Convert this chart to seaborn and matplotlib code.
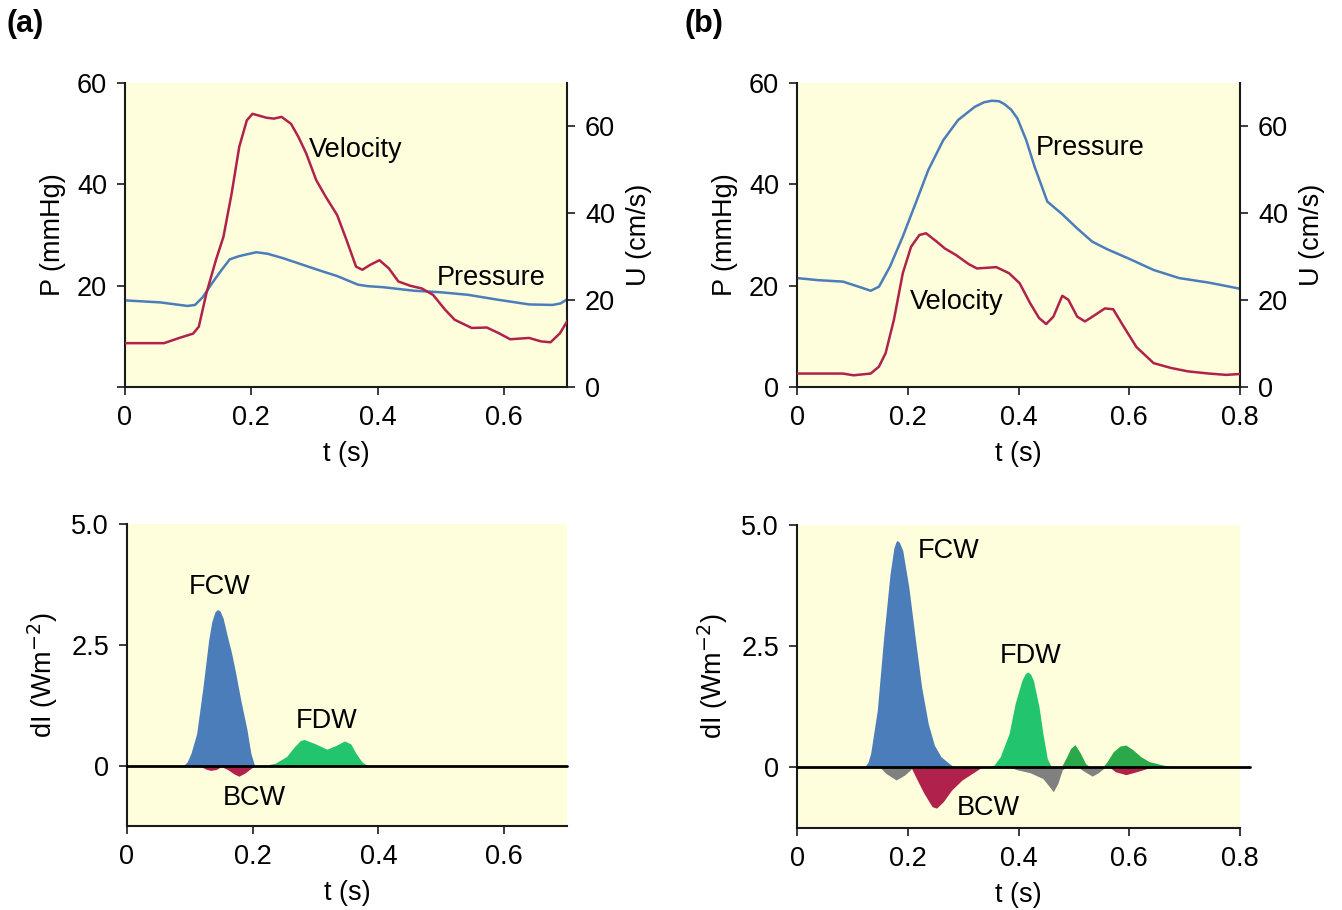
import numpy as np
import pandas as pd
import matplotlib
matplotlib.use("Agg")
import matplotlib.pyplot as plt
import seaborn as sns

# ---------------- DATA ----------------
# Panel (a) top: pressure (mmHg) and velocity (cm/s)
a_tp = [0.000, 0.056, 0.099, 0.111, 0.123, 0.138, 0.153, 0.166, 0.180, 0.190, 0.208, 0.226, 0.251,
        0.275, 0.306, 0.336, 0.369, 0.385, 0.409, 0.458, 0.500, 0.543, 0.592, 0.640, 0.677, 0.690, 0.700]
a_p = [17.1, 16.7, 16.0, 16.2, 17.7, 20.5, 23.1, 25.2, 25.8, 26.1, 26.6, 26.3, 25.4,
       24.4, 23.1, 21.9, 20.2, 19.9, 19.7, 19.0, 18.7, 18.2, 17.2, 16.3, 16.2, 16.5, 17.3]
a_tu = [0.000, 0.062, 0.086, 0.108, 0.117, 0.129, 0.144, 0.156, 0.169, 0.181, 0.193, 0.202,
        0.212, 0.224, 0.236, 0.248, 0.263, 0.275, 0.287, 0.303, 0.318, 0.336, 0.351, 0.366,
        0.376, 0.388, 0.403, 0.418, 0.433, 0.452, 0.470, 0.488, 0.507, 0.522, 0.549, 0.573,
        0.592, 0.610, 0.640, 0.659, 0.674, 0.689, 0.700]
a_u = [10.1, 10.1, 11.3, 12.3, 13.9, 21.6, 29.2, 34.6, 44.6, 55.3, 61.4, 62.9,
       62.5, 62.0, 61.8, 62.2, 60.6, 57.5, 53.8, 47.6, 43.8, 39.6, 33.8, 27.7,
       27.0, 28.1, 29.2, 27.3, 24.3, 23.3, 22.7, 21.2, 17.8, 15.5, 13.6, 13.7,
       12.4, 11.0, 11.3, 10.5, 10.3, 12.4, 15.1]

# Panel (b) top
b_tp = [0.000, 0.037, 0.083, 0.114, 0.133, 0.148, 0.168, 0.191, 0.214, 0.237, 0.264, 0.291,
        0.321, 0.338, 0.352, 0.365, 0.375, 0.387, 0.398, 0.414, 0.429, 0.452, 0.479, 0.506,
        0.533, 0.560, 0.598, 0.644, 0.690, 0.744, 0.800]
b_p = [21.5, 21.1, 20.8, 19.7, 19.0, 19.8, 23.8, 29.7, 36.2, 42.8, 48.7, 52.7,
       55.3, 56.2, 56.5, 56.4, 55.8, 54.7, 53.0, 48.7, 43.5, 36.6, 34.1, 31.3,
       28.7, 27.2, 25.4, 23.1, 21.5, 20.6, 19.4]
b_tu = [0.000, 0.083, 0.102, 0.133, 0.148, 0.160, 0.175, 0.191, 0.206, 0.221, 0.233, 0.252,
        0.267, 0.287, 0.310, 0.325, 0.360, 0.383, 0.402, 0.421, 0.437, 0.450, 0.463, 0.479,
        0.490, 0.506, 0.520, 0.536, 0.556, 0.571, 0.590, 0.613, 0.644, 0.675, 0.706, 0.744,
        0.775, 0.800]
b_u = [3.1, 3.1, 2.7, 3.1, 4.7, 7.8, 15.5, 26.2, 32.3, 35.0, 35.4, 33.5,
       31.9, 30.4, 28.3, 27.3, 27.6, 26.2, 23.9, 19.3, 15.9, 14.5, 16.2, 21.0,
       20.1, 16.2, 15.1, 16.4, 18.1, 17.9, 13.9, 9.2, 5.5, 4.4, 3.6, 3.1,
       2.8, 3.0]

# Panel (a) bottom: wave intensity components (W m^-2)
a_fcw_t = [0.090, 0.096, 0.102, 0.111, 0.121, 0.130, 0.135, 0.140, 0.144, 0.148, 0.153, 0.160,
           0.166, 0.172, 0.181, 0.191, 0.197, 0.203]
a_fcw = [0.00, 0.08, 0.26, 0.67, 1.63, 2.60, 2.98, 3.18, 3.23, 3.20, 3.05, 2.66,
         2.35, 1.98, 1.36, 0.74, 0.26, 0.00]
a_bcw_t = [0.115, 0.125, 0.133, 0.142, 0.150, 0.160, 0.170, 0.178, 0.188, 0.198, 0.205]
a_bcw = [0.00, -0.07, -0.10, -0.08, -0.02, -0.08, -0.17, -0.22, -0.15, -0.05, 0.00]
a_fdw_t = [0.218, 0.236, 0.254, 0.267, 0.276, 0.282, 0.300, 0.318, 0.333, 0.346, 0.356, 0.364, 0.373, 0.382]
a_fdw = [0.00, 0.05, 0.19, 0.40, 0.52, 0.54, 0.45, 0.34, 0.42, 0.51, 0.45, 0.26, 0.09, 0.00]

# Panel (b) bottom
b_fcw_t = [0.121, 0.128, 0.133, 0.145, 0.156, 0.168, 0.175, 0.179, 0.181, 0.185, 0.191, 0.202,
           0.214, 0.225, 0.237, 0.248, 0.260, 0.275, 0.283]
b_fcw = [0.00, 0.10, 0.29, 1.18, 2.62, 3.99, 4.53, 4.66, 4.68, 4.64, 4.47, 3.71,
         2.62, 1.66, 0.90, 0.46, 0.22, 0.08, 0.01]
b_bcw_t = [0.206, 0.214, 0.229, 0.244, 0.252, 0.264, 0.279, 0.298, 0.321, 0.333]
b_bcw = [0.00, -0.19, -0.53, -0.81, -0.84, -0.71, -0.47, -0.26, -0.09, 0.00]
b_bcw2_t = [0.565, 0.575, 0.594, 0.613, 0.633, 0.645]
b_bcw2 = [0.00, -0.09, -0.15, -0.09, -0.02, 0.00]
b_neg_t = [[0.150, 0.160, 0.179, 0.194, 0.206],
           [0.385, 0.398, 0.421, 0.444, 0.456, 0.463, 0.471, 0.479, 0.485],
           [0.508, 0.517, 0.533, 0.544, 0.556]]
b_neg = [[0.00, -0.12, -0.26, -0.16, -0.04],
         [0.00, -0.05, -0.11, -0.23, -0.40, -0.50, -0.33, -0.05, 0.00],
         [0.00, -0.07, -0.18, -0.11, 0.00]]
b_fdw_t = [0.348, 0.356, 0.367, 0.383, 0.394, 0.406, 0.412, 0.417, 0.422, 0.427, 0.437, 0.444,
           0.452, 0.460]
b_fdw = [0.00, 0.05, 0.22, 0.70, 1.32, 1.79, 1.93, 1.97, 1.92, 1.79, 1.25, 0.70,
         0.18, 0.00]
b_w2_t = [0.477, 0.487, 0.494, 0.502, 0.512, 0.521, 0.530]
b_w2 = [0.00, 0.22, 0.39, 0.47, 0.29, 0.08, 0.00]
b_w3_t = [0.552, 0.560, 0.571, 0.583, 0.594, 0.606, 0.621, 0.636, 0.660, 0.682, 0.720, 0.800]
b_w3 = [0.00, 0.12, 0.32, 0.44, 0.46, 0.37, 0.22, 0.12, 0.05, 0.01, 0.01, 0.00]

# ---------------- STYLE ----------------
sns.set_theme(style="ticks")
plt.rcParams["font.family"] = ["Liberation Sans", "DejaVu Sans"]
plt.rcParams["axes.edgecolor"] = "#1a1a1a"
plt.rcParams["xtick.color"] = "#1a1a1a"
plt.rcParams["ytick.color"] = "#1a1a1a"
plt.rcParams["text.color"] = "black"
plt.rcParams["axes.labelcolor"] = "black"
plt.rcParams["xtick.labelcolor"] = "black"
plt.rcParams["ytick.labelcolor"] = "black"

BG = "#fefedc"
BLUE = "#4a7dba"
RED = "#b0214b"
GREEN = "#22c46e"
DGREEN = "#2aa84a"
GRAY = "#808080"
FS = 19.5

fig = plt.figure(figsize=(13.42, 9.10), dpi=100)
fig.patch.set_facecolor("white")


def style_axis(ax):
    ax.set_facecolor(BG)
    ax.spines["top"].set_visible(False)
    ax.tick_params(labelsize=FS, length=6, width=1.2, pad=7)
    for s in ax.spines.values():
        s.set_linewidth(1.5)


def top_panel(rect, tp, p, tu, u, xmax, xticks, xlabels, pticks, plabels, txt):
    ax = fig.add_axes(rect)
    style_axis(ax)
    ax.spines["right"].set_visible(False)
    sns.lineplot(x=tp, y=p, ax=ax, color=BLUE, linewidth=1.8, zorder=3)
    ax.set_xlim(0, xmax)
    ax.set_ylim(0, 60)
    ax.set_xticks(xticks)
    ax.set_xticklabels(xlabels)
    ax.set_yticks(pticks)
    ax.set_yticklabels(plabels)
    ax.set_xlabel("t (s)", fontsize=FS, labelpad=7)
    ax.set_ylabel("P (mmHg)", fontsize=FS, labelpad=8)
    ax2 = ax.twinx()
    ax2.spines["top"].set_visible(False)
    ax2.spines["right"].set_linewidth(1.5)
    sns.lineplot(x=tu, y=u, ax=ax2, color=RED, linewidth=1.8, zorder=3)
    ax2.set_ylim(0, 70)
    ax2.set_yticks([0, 20, 40, 60])
    ax2.set_yticklabels(["0", "20", "40", "60"])
    ax2.tick_params(labelsize=FS, length=6, width=1.2, pad=7)
    ax2.set_ylabel("U (cm/s)", fontsize=FS, labelpad=8)
    for s, x, y in txt:
        ax.text(x, y, s, fontsize=FS, ha="center", va="center", zorder=5)
    return ax


def bottom_panel(rect, xmax, xticks, xlabels, fills, txt, zero_ext):
    ax = fig.add_axes(rect)
    style_axis(ax)
    ax.spines["right"].set_visible(False)
    for t, v, c in fills:
        ax.fill_between(t, v, 0, color=c, linewidth=0, zorder=2)
    ax.axhline(0, xmin=0, xmax=zero_ext, color="black", linewidth=2, zorder=4, clip_on=False)
    ax.set_xlim(0, xmax)
    ax.set_ylim(-1.25, 5.0)
    ax.set_xticks(xticks)
    ax.set_xticklabels(xlabels)
    ax.set_yticks([0, 2.5, 5.0])
    ax.set_yticklabels(["0", "2.5", "5.0"])
    ax.set_xlabel("t (s)", fontsize=FS, labelpad=7)
    ax.set_ylabel("dI (Wm$^{-2}$)", fontsize=FS, labelpad=8)
    for s, x, y in txt:
        ax.text(x, y, s, fontsize=FS, ha="center", va="center", zorder=5)
    return ax


ax_a = top_panel([0.0931, 0.5747, 0.3294, 0.3341], a_tp, a_p, a_tu, a_u, 0.7,
                 [0, 0.2, 0.4, 0.6], ["0", "0.2", "0.4", "0.6"],
                 [0, 20, 40, 60], ["", "20", "40", "60"],
                 [("Velocity", 0.365, 46.8), ("Pressure", 0.580, 21.6)])
ax_b = top_panel([0.5939, 0.5747, 0.3301, 0.3341], b_tp, b_p, b_tu, b_u, 0.8,
                 [0, 0.2, 0.4, 0.6, 0.8], ["0", "0.2", "0.4", "0.6", "0.8"],
                 [0, 20, 40, 60], ["0", "20", "40", "60"],
                 [("Pressure", 0.529, 47.2), ("Velocity", 0.289, 16.8)])

ax_c = bottom_panel([0.0946, 0.0923, 0.3279, 0.3319], 0.7,
                    [0, 0.2, 0.4, 0.6], ["0", "0.2", "0.4", "0.6"],
                    [(a_fcw_t, a_fcw, BLUE), (a_bcw_t, a_bcw, RED), (a_fdw_t, a_fdw, GREEN)],
                    [("FCW", 0.148, 3.70), ("FDW", 0.318, 0.93), ("BCW", 0.202, -0.68)], 1.0)
fills_b = [(b_fcw_t, b_fcw, BLUE), (b_bcw_t, b_bcw, RED), (b_bcw2_t, b_bcw2, RED),
           (b_fdw_t, b_fdw, GREEN), (b_w2_t, b_w2, DGREEN), (b_w3_t, b_w3, DGREEN)]
for t, v in zip(b_neg_t, b_neg):
    fills_b.append((t, v, GRAY))
ax_d = bottom_panel([0.5939, 0.0901, 0.3301, 0.3330], 0.8,
                    [0, 0.2, 0.4, 0.6, 0.8], ["0", "0.2", "0.4", "0.6", "0.8"],
                    fills_b,
                    [("FCW", 0.273, 4.46), ("FDW", 0.421, 2.30), ("BCW", 0.345, -0.83)], 1.022)

fig.text(0.005, 0.974, "(a)", fontsize=22, fontweight="bold", ha="left", va="center")
fig.text(0.510, 0.974, "(b)", fontsize=22, fontweight="bold", ha="left", va="center")

fig.savefig("out.png", dpi=100, facecolor="white")
